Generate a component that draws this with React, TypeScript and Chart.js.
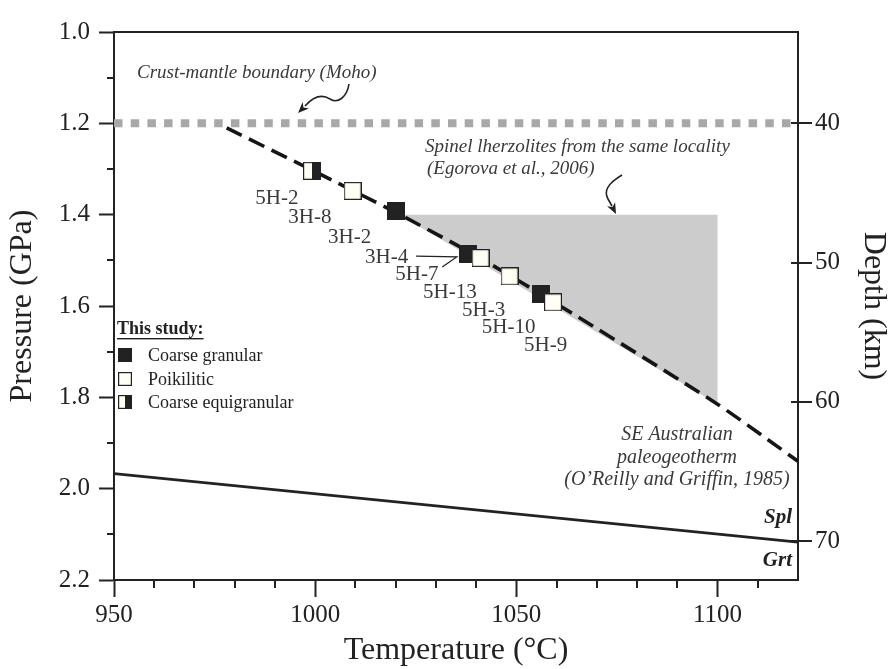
import React, { useEffect, useRef } from 'react';
import { Chart, registerables } from 'chart.js';

Chart.register(...registerables);

const SERIF = "'Liberation Serif', 'Times New Roman', serif";
const INK = '#222222';
const NOTE = '#3a3a3a';

// Xenolith equilibration conditions: temperature (°C) and pressure (GPa)
const coarseGranularT = [1020.2, 1037.9, 1056.1];
const coarseGranularP = [1.393, 1.486, 1.573];
const poikiliticT = [1009.3, 1041.1, 1048.3, 1059.1];
const poikiliticP = [1.348, 1.495, 1.535, 1.592];
const equigranularT = [999.2];
const equigranularP = [1.304];

// Sample names, in order along the geotherm
const sampleNames = ['5H-2', '3H-8', '3H-2', '3H-4', '5H-7', '5H-13', '5H-3', '5H-10', '5H-9'];

// SE Australian paleogeotherm (O'Reilly and Griffin, 1985)
const geothermT = [978, 1000, 1020, 1040, 1060, 1100, 1120];
const geothermP = [1.21, 1.306, 1.395, 1.49, 1.595, 1.815, 1.94];

// Spinel lherzolites from the same locality (Egorova et al., 2006)
const spinelFieldT = [1021, 1100, 1100, 1021];
const spinelFieldP = [1.4, 1.4, 1.815, 1.4];

// Crust-mantle boundary
const mohoT = [950, 1120];
const mohoP = [1.2, 1.2];

// Spinel / garnet lherzolite transition
const splGrtT = [950, 1120];
const splGrtP = [1.967, 2.117];

// Axis ticks
const temperatureTicks = [950, 1000, 1050, 1100];
const pressureTicks = [1.0, 1.2, 1.4, 1.6, 1.8, 2.0, 2.2];
const depthTicks = [40, 50, 60, 70];

// Depth scale: 40 km at 1.2 GPa, 0.0305 GPa per km
const depthAt = (p: number) => 40 + (p - 1.2) / 0.0305;

// Label anchors (°C, GPa) for the sample names: left edge, vertical middle
const labelAnchors: [number, number][] = [
  [985.1, 1.365], [993.3, 1.406], [1003.2, 1.449], [1012.4, 1.493], [1019.9, 1.532],
  [1026.8, 1.571], [1036.5, 1.61], [1041.4, 1.647], [1051.9, 1.686],
];

const pts = (t: number[], p: number[]) => t.map((v, i) => ({ x: v, y: p[i] }));

function makeSquare(kind: 'black' | 'white' | 'half', size = 18): HTMLCanvasElement {
  const c = document.createElement('canvas');
  c.width = size;
  c.height = size;
  const g = c.getContext('2d')!;
  g.fillStyle = kind === 'black' ? INK : '#fffff6';
  g.fillRect(0, 0, size, size);
  if (kind === 'half') {
    g.fillStyle = INK;
    g.fillRect(size / 2, 0, size / 2, size);
  }
  g.strokeStyle = INK;
  g.lineWidth = 1.2;
  g.strokeRect(0.6, 0.6, size - 1.2, size - 1.2);
  return c;
}

function arrowHead(ctx: CanvasRenderingContext2D, x: number, y: number, ang: number, len = 11, wid = 4.5) {
  ctx.save();
  ctx.translate(x, y);
  ctx.rotate(ang);
  ctx.beginPath();
  ctx.moveTo(0, 0);
  ctx.lineTo(-len, -wid);
  ctx.lineTo(-len * 0.7, 0);
  ctx.lineTo(-len, wid);
  ctx.closePath();
  ctx.fill();
  ctx.restore();
}

export default function App() {
  const ref = useRef<HTMLCanvasElement | null>(null);

  useEffect(() => {
    const canvas = ref.current;
    if (!canvas) return;
    const black = makeSquare('black');
    const white = makeSquare('white');
    const half = makeSquare('half');
    const blackKey = makeSquare('black', 14);
    const whiteKey = makeSquare('white', 14);
    const halfKey = makeSquare('half', 14);

    const overlay = {
      id: 'overlay',
      afterDatasetsDraw(chart: any) {
        const { ctx, chartArea: a, scales } = chart;
        const px = (t: number) => scales.x.getPixelForValue(t);
        const py = (p: number) => scales.y.getPixelForValue(p);
        ctx.save();

        // top frame line
        ctx.strokeStyle = INK;
        ctx.lineWidth = 2;
        ctx.beginPath();
        ctx.moveTo(a.left - 1, a.top);
        ctx.lineTo(a.right + 1, a.top);
        ctx.stroke();

        // minor ticks on temperature axis
        ctx.beginPath();
        for (let t = 960; t < 1120; t += 10) {
          if (t % 50 === 0) continue;
          const X = Math.round(px(t));
          ctx.moveTo(X, a.bottom);
          ctx.lineTo(X, a.bottom + 8);
        }
        // minor ticks on pressure axis
        for (let k = 1; k < 12; k += 2) {
          const Y = Math.round(py(1 + k * 0.1));
          ctx.moveTo(a.left, Y);
          ctx.lineTo(a.left - 7, Y);
        }
        // depth ticks crossing the right axis
        for (const d of depthTicks) {
          const Y = Math.round(scales.y2.getPixelForValue(d));
          ctx.moveTo(a.right - 7, Y);
          ctx.lineTo(a.right + 14, Y);
        }
        ctx.stroke();

        // sample names
        ctx.fillStyle = NOTE;
        ctx.font = `21px ${SERIF}`;
        ctx.textAlign = 'left';
        ctx.textBaseline = 'middle';
        sampleNames.forEach((n, i) => {
          const [t, p] = labelAnchors[i];
          ctx.fillText(n, px(t), py(p));
        });

        // leader lines for 3H-4 and 5H-7
        const jx = px(coarseGranularT[1]) - 11;
        const jy = py(coarseGranularP[1]) + 3;
        ctx.strokeStyle = INK;
        ctx.lineWidth = 1.3;
        ctx.beginPath();
        ctx.moveTo(px(labelAnchors[3][0]) + 51, py(labelAnchors[3][1]) - 1);
        ctx.lineTo(jx, jy);
        ctx.lineTo(px(labelAnchors[4][0]) + 47, py(labelAnchors[4][1]) - 8);
        ctx.stroke();

        // italic notes
        ctx.fillStyle = NOTE;
        ctx.font = `italic 19px ${SERIF}`;
        ctx.fillText('Crust-mantle boundary (Moho)', 137, 73);
        ctx.fillText('Spinel lherzolites from the same locality', 425, 147);
        ctx.fillText('(Egorova et al., 2006)', 427, 169);
        ctx.font = `italic 20px ${SERIF}`;
        ctx.textAlign = 'center';
        ctx.fillText('SE Australian', 677, 435);
        ctx.fillText('paleogeotherm', 677, 458);
        ctx.fillText("(O\u2019Reilly and Griffin, 1985)", 677, 480);

        ctx.font = `bold italic 21px ${SERIF}`;
        ctx.fillStyle = INK;
        ctx.textAlign = 'right';
        ctx.fillText('Spl', 792, 518);
        ctx.fillText('Grt', 792, 561);

        // wavy arrows
        ctx.strokeStyle = INK;
        ctx.fillStyle = INK;
        ctx.lineWidth = 1.6;
        ctx.beginPath();
        ctx.moveTo(349, 84);
        ctx.bezierCurveTo(347, 97, 338, 104, 330, 99);
        ctx.bezierCurveTo(322, 94, 313, 97, 305, 106);
        ctx.stroke();
        arrowHead(ctx, 298, 113, Math.atan2(7, -7));

        ctx.beginPath();
        ctx.moveTo(622, 175);
        ctx.bezierCurveTo(612, 181, 602, 189, 608, 199);
        ctx.lineTo(612, 206);
        ctx.stroke();
        arrowHead(ctx, 616, 214, Math.atan2(8, 4));

        // legend
        ctx.textAlign = 'left';
        ctx.textBaseline = 'middle';
        ctx.fillStyle = INK;
        ctx.font = `bold 18px ${SERIF}`;
        ctx.fillText('This study:', 117, 329);
        const w = ctx.measureText('This study:').width;
        ctx.fillRect(117, 338, w, 1.4);
        ctx.font = `18px ${SERIF}`;
        const entries: [HTMLCanvasElement, string, number][] = [
          [blackKey, 'Coarse granular', 355],
          [whiteKey, 'Poikilitic', 379],
          [halfKey, 'Coarse equigranular', 402],
        ];
        for (const [img, txt, yy] of entries) {
          ctx.drawImage(img, 118, yy - 7);
          ctx.fillText(txt, 148, yy + 1);
        }
        ctx.restore();
      },
    };

    const tickFont = { family: SERIF, size: 25 };
    const titleFont = { family: SERIF, size: 32, lineHeight: 1 };

    const chart = new Chart(canvas, {
      type: 'line',
      data: {
        datasets: [
          {
            data: pts(poikiliticT, poikiliticP),
            showLine: false,
            pointStyle: white as any,
            pointRadius: 9,
            order: 1,
          },
          {
            data: pts(equigranularT, equigranularP),
            showLine: false,
            pointStyle: half as any,
            pointRadius: 9,
            order: 2,
          },
          {
            data: pts(coarseGranularT, coarseGranularP),
            showLine: false,
            pointStyle: black as any,
            pointRadius: 9,
            order: 3,
          },
          {
            data: pts(geothermT, geothermP),
            borderColor: '#151515',
            borderWidth: 3.6,
            borderDash: [17, 8],
            borderCapStyle: 'butt',
            pointRadius: 0,
            tension: 0.2,
            order: 7,
          },
          {
            data: pts(splGrtT, splGrtP),
            borderColor: INK,
            borderWidth: 2.6,
            pointRadius: 0,
            order: 8,
          },
          {
            data: pts(mohoT, mohoP),
            borderColor: '#a8a8a8',
            borderWidth: 8,
            borderDash: [8.5, 8.2],
            borderCapStyle: 'butt',
            pointRadius: 0,
            order: 9,
          },
          {
            data: pts(spinelFieldT, spinelFieldP),
            borderWidth: 0,
            borderColor: 'rgba(0,0,0,0)',
            backgroundColor: '#cccccc',
            fill: 'shape',
            pointRadius: 0,
            order: 10,
          },
        ],
      },
      options: {
        responsive: false,
        animation: false,
        events: [],
        layout: { padding: { top: 27, left: 0, right: 0, bottom: 0 } },
        plugins: { legend: { display: false }, tooltip: { enabled: false } },
        scales: {
          x: {
            type: 'linear',
            position: 'bottom',
            min: 950,
            max: 1120,
            afterBuildTicks: (s: any) => { s.ticks = temperatureTicks.map((v) => ({ value: v })); },
            afterFit: (s: any) => { s.height = 89; },
            grid: { drawOnChartArea: false, tickLength: 17, tickWidth: 2, tickColor: INK },
            border: { color: INK, width: 2 },
            ticks: { font: tickFont, color: INK, padding: 3, maxRotation: 0, autoSkip: false, callback: (v: any) => String(v) },
            title: { display: true, text: 'Temperature (\u00B0C)', font: titleFont, color: INK, padding: { top: 0, bottom: 2 } },
          },
          y: {
            type: 'linear',
            position: 'left',
            reverse: true,
            min: 1.0,
            max: 2.2,
            afterBuildTicks: (s: any) => { s.ticks = pressureTicks.map((v) => ({ value: v })); },
            afterFit: (s: any) => { s.width = 114; },
            grid: { drawOnChartArea: false, tickLength: 15, tickWidth: 2, tickColor: INK },
            border: { color: INK, width: 2 },
            ticks: { font: tickFont, color: INK, padding: 9, callback: (v: any) => Number(v).toFixed(1) },
            title: { display: true, text: 'Pressure (GPa)', font: titleFont, color: INK, padding: { top: 7, bottom: 0 } },
          },
          y2: {
            type: 'linear',
            position: 'right',
            reverse: true,
            min: depthAt(1.0),
            max: depthAt(2.2),
            afterBuildTicks: (s: any) => { s.ticks = depthTicks.map((v) => ({ value: v })); },
            afterFit: (s: any) => { s.width = 91; },
            grid: { drawOnChartArea: false, drawTicks: false },
            border: { color: INK, width: 2 },
            ticks: { font: tickFont, color: INK, padding: 17 },
            title: { display: true, text: 'Depth (km)', font: titleFont, color: INK, padding: { top: 0, bottom: 5 } },
          },
        },
      } as any,
      plugins: [overlay],
    });
    return () => chart.destroy();
  }, []);

  return (
    <canvas
      ref={ref}
      width={889}
      height={669}
      style={{ position: 'absolute', left: 0, top: 0, display: 'block', background: '#ffffff' }}
    />
  );
}
